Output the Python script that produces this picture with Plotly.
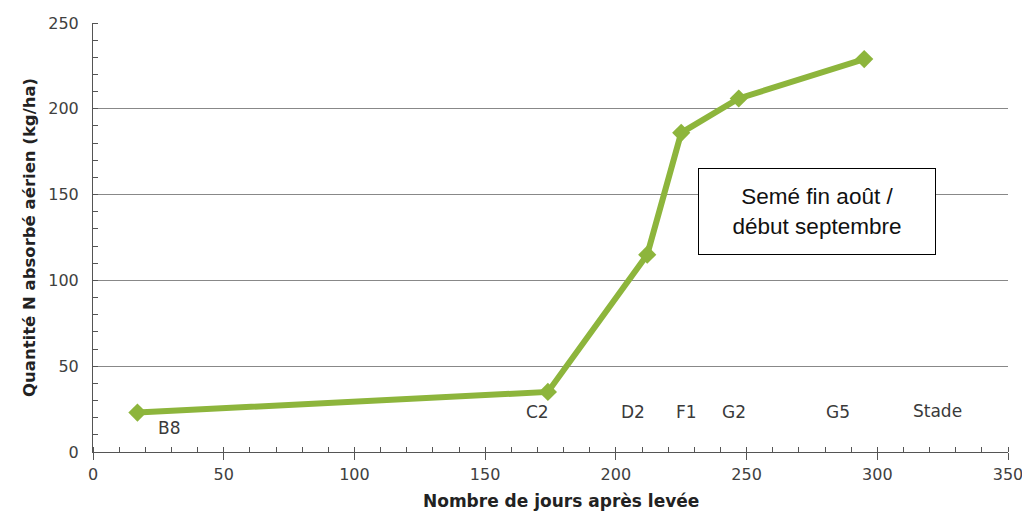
import plotly.graph_objects as go

days = [17, 174, 212, 225, 247, 295]
n_uptake = [23, 35, 115, 186, 206, 229]

stage_labels = ["B8", "C2", "D2", "F1", "G2", "G5", "Stade"]
stage_x = [29, 170, 206.5, 227, 245, 285, 323]
stage_y = [14, 23.5, 23.5, 23.5, 23.5, 23.5, 24]

x_ticks = [0, 50, 100, 150, 200, 250, 300, 350]
y_ticks = [0, 50, 100, 150, 200, 250]

green = "#8DB53C"
font_family = "'DejaVu Sans', Verdana, sans-serif"

fig = go.Figure()
fig.add_trace(go.Scatter(
    x=days, y=n_uptake, mode="lines+markers",
    line=dict(color=green, width=6),
    marker=dict(symbol="diamond", size=14, color=green),
    showlegend=False, hoverinfo="skip",
))

for lab, lx, ly in zip(stage_labels, stage_x, stage_y):
    fig.add_annotation(x=lx, y=ly, text=lab, showarrow=False,
                       font=dict(family=font_family, size=17, color="#3a3a3a"))

fig.add_annotation(
    x=277, y=140, text="Semé fin août /<br>début septembre", showarrow=False,
    font=dict(family="Arial, 'Liberation Sans', sans-serif", size=22.5, color="#111111"),
    bordercolor="#000000", borderwidth=1, borderpad=0, bgcolor="#ffffff",
    width=236, height=85, align="center",
)

# axis titles
fig.add_annotation(
    xref="paper", yref="paper", x=0, y=0.5, xshift=-75, textangle=-90,
    text="<b>Quantité N absorbé aérien (kg/ha)</b>", showarrow=False,
    font=dict(family=font_family, size=16.5, color="#222222"),
)
fig.add_annotation(
    xref="paper", yref="paper", x=0.5, y=0, xshift=10, yshift=-37, yanchor="top",
    text="<b>Nombre de jours après levée</b>", showarrow=False,
    font=dict(family=font_family, size=17, color="#222222"),
)

fig.update_layout(
    width=1014, height=509,
    margin=dict(l=85, r=14, t=15, b=65),
    paper_bgcolor="white", plot_bgcolor="white",
    font=dict(family=font_family, color="#404040", size=16),
    xaxis=dict(
        range=[0, 350], tickvals=x_ticks, showgrid=False, zeroline=False,
        automargin=False, ticklabeloverflow="allow",
        showline=True, linecolor="#555555", linewidth=1,
        ticks="outside", ticklen=7, tickcolor="#555555",
        minor=dict(dtick=10, ticks="inside", ticklen=5, tickcolor="#555555", showgrid=False),
        tickfont=dict(size=16, color="#404040"), ticklabelstandoff=1,
    ),
    yaxis=dict(
        range=[0, 250], tickvals=y_ticks, showgrid=True, gridcolor="#888888", gridwidth=1.3,
        automargin=False,
        zeroline=False, showline=True, linecolor="#555555", linewidth=1,
        ticks="", minor=dict(dtick=10, ticks="inside", ticklen=5, tickcolor="#555555", showgrid=False),
        tickfont=dict(size=16, color="#404040"), ticklabelstandoff=10,
    ),
)

fig.write_html("out.html")
